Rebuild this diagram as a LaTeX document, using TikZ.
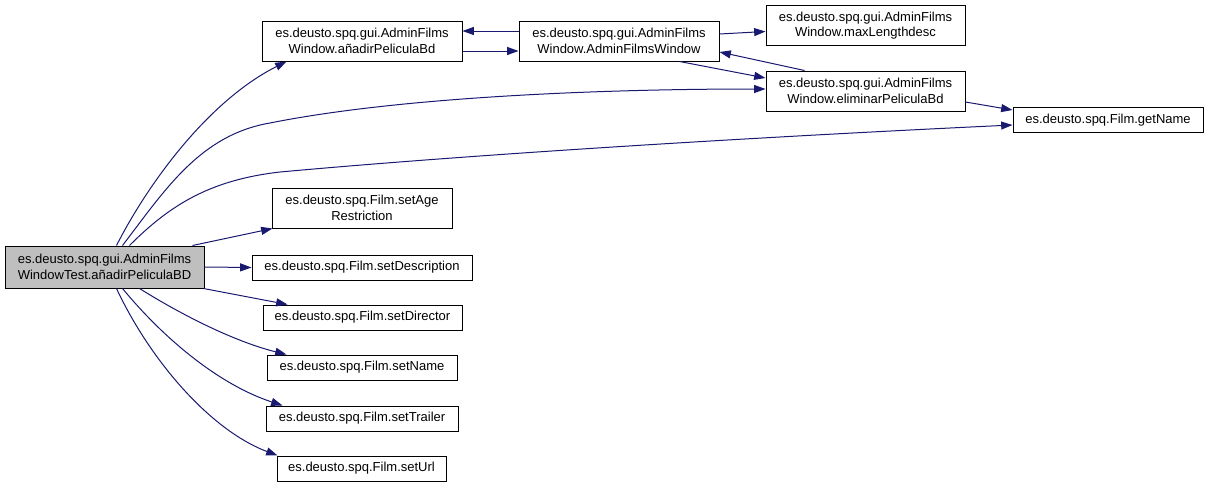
\documentclass[tikz,border=0pt]{standalone}
\usepackage{fontspec}
\setmainfont{Liberation Sans}
\usetikzlibrary{arrows.meta,calc}
\definecolor{edgeblue}{HTML}{191970}
\definecolor{maingray}{HTML}{BFBFBF}
\tikzset{
  fbox/.style={draw=black, line width=0.75pt, fill=white, align=center, inner sep=0pt,
    font=\fontsize{9.75}{11.5}\selectfont, minimum height=18.75pt},
  twoline/.style={minimum height=30pt},
  mainbox/.style={fbox, fill=maingray, minimum height=31.5pt},
  call/.style={draw=edgeblue, line width=0.75pt, -{Triangle[length=8.5pt,width=6pt]}, fill=none},
}
\begin{document}
\begin{tikzpicture}[x=0.75pt,y=-0.75pt]
\useasboundingbox (0,0) rectangle (1208,489);
% nodes
\node[mainbox, minimum width=149.25pt] (main) at (104.5,267) {es.deusto.spq.gui.AdminFilms\\WindowTest.añadirPeliculaBD};
\node[fbox, twoline, minimum width=150pt] (anadir) at (362,41) {es.deusto.spq.gui.AdminFilms\\Window.añadirPeliculaBd};
\node[fbox, twoline, minimum width=150pt] (afw) at (619,41) {es.deusto.spq.gui.AdminFilms\\Window.AdminFilmsWindow};
\node[fbox, twoline, minimum width=149.25pt] (maxlen) at (865.5,25.5) {es.deusto.spq.gui.AdminFilms\\Window.maxLengthdesc};
\node[fbox, twoline, minimum width=149.25pt] (elim) at (865.5,91) {es.deusto.spq.gui.AdminFilms\\Window.eliminarPeliculaBd};
\node[fbox, minimum width=142.5pt] (getname) at (1108,120) {es.deusto.spq.Film.getName};
\node[fbox, twoline, minimum width=135pt] (setage) at (362,208) {es.deusto.spq.Film.setAge\\Restriction};
\node[fbox, minimum width=165pt] (setdesc) at (362,267.5) {es.deusto.spq.Film.setDescription};
\node[fbox, minimum width=149.25pt] (setdir) at (362.5,317.5) {es.deusto.spq.Film.setDirector};
\node[fbox, minimum width=142.5pt] (setname) at (362,367.5) {es.deusto.spq.Film.setName};
\node[fbox, minimum width=144pt] (settrailer) at (362,418.5) {es.deusto.spq.Film.setTrailer};
\node[fbox, minimum width=126.75pt] (seturl) at (361.5,468.5) {es.deusto.spq.Film.setUrl};
% edges from main
\draw[call] ($(main.north west)+(112,0)$) .. controls (150,180) and (210,100) .. ($(anadir.south west)+(25,0)$);
\draw[call] ($(main.north west)+(118,0)$) .. controls (165,190) and (200,135) .. (270,123)
   .. controls (400,97) and (600,89) .. ($(elim.west)+(0,-2)$);
\draw[call] ($(main.north west)+(125,0)$) .. controls (170,205) and (210,180) .. (280,172)
   .. controls (500,152) and (800,135) .. ($(getname.west)+(0,5)$);
\draw[call] ($(main.north west)+(188,0)$) -- ($(setage.south west)+(1,0)$);
\draw[call] (main.east) -- (setdesc.west);
\draw[call] ($(main.south east)+(-1,0)$) -- ($(setdir.north west)+(25,0)$);
\draw[call] ($(main.south west)+(135,0)$) .. controls (190,320) and (240,343) .. ($(setname.north west)+(20,0)$);
\draw[call] ($(main.south west)+(118,0)$) .. controls (165,340) and (220,385) .. ($(settrailer.north west)+(17,0)$);
\draw[call] ($(main.south west)+(112,0)$) .. controls (150,360) and (210,430) .. ($(seturl.north west)+(1,0)$);
% other edges
\draw[call] ($(anadir.east)+(0,10)$) -- ($(afw.west)+(0,10)$);
\draw[call] ($(afw.west)+(0,-10)$) -- ($(anadir.east)+(0,-10)$);
\draw[call] ($(afw.east)+(0,-7)$) -- ($(maxlen.west)+(0,6)$);
\draw[call] ($(afw.south west)+(161,0)$) -- ($(elim.west)+(0,-13)$);
\draw[call] ($(elim.north west)+(39,0)$) -- ($(afw.east)+(0,11)$);
\draw[call] ($(elim.east)+(0,11)$) -- ($(getname.west)+(0,-10)$);
\end{tikzpicture}
\end{document}
